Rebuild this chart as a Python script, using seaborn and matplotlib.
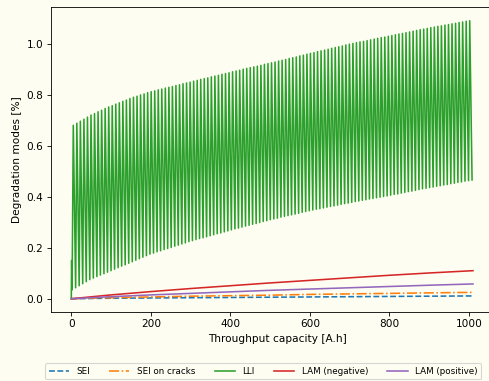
import numpy as np
import pandas as pd
import matplotlib
matplotlib.use("Agg")
import matplotlib.pyplot as plt
import seaborn as sns

# ---------------- data ----------------
# LLI: per-cycle upper (peak) and lower (trough) values
lli_peaks = [
    0.68, 0.688, 0.696, 0.704, 0.712, 0.72,
    0.726, 0.733, 0.739, 0.746, 0.752,
    0.757, 0.763, 0.768, 0.774, 0.779, 0.785, 0.79,
    0.794, 0.799, 0.803, 0.808, 0.812,
    0.815, 0.819, 0.822, 0.826, 0.829, 0.832, 0.836, 0.839, 0.843, 0.846, 0.849, 0.853,
    0.856, 0.86, 0.863, 0.866, 0.87, 0.873, 0.876, 0.88, 0.883, 0.886, 0.89,
    0.893, 0.896, 0.9, 0.903, 0.906, 0.909, 0.912, 0.915, 0.919, 0.922, 0.925,
    0.928, 0.932, 0.935, 0.938, 0.942, 0.945, 0.948, 0.952, 0.955, 0.959, 0.962,
    0.965, 0.969, 0.972, 0.975, 0.978, 0.982, 0.985, 0.988, 0.991, 0.995, 0.998, 1.001,
    1.004, 1.007, 1.009, 1.012, 1.015, 1.018, 1.021, 1.024, 1.026, 1.029, 1.032,
    1.035, 1.038, 1.04, 1.043, 1.046, 1.049, 1.052, 1.055, 1.057, 1.06, 1.063,
    1.065, 1.068, 1.07, 1.073, 1.075, 1.078, 1.08, 1.083, 1.085, 1.088, 1.09,
]
lli_troughs = [
    0.035, 0.043, 0.051, 0.059, 0.067, 0.075,
    0.081, 0.087, 0.093, 0.098, 0.104, 0.11,
    0.116, 0.122, 0.128, 0.133, 0.139, 0.145,
    0.151, 0.157, 0.163, 0.169, 0.175,
    0.179, 0.184, 0.188, 0.193, 0.197, 0.201, 0.206, 0.21, 0.215, 0.219, 0.224, 0.228,
    0.232, 0.236, 0.239, 0.243, 0.247, 0.251, 0.255, 0.258, 0.262, 0.266, 0.27,
    0.274, 0.277, 0.281, 0.285, 0.288, 0.292, 0.295, 0.299, 0.303, 0.306, 0.31,
    0.313, 0.316, 0.32, 0.323, 0.326, 0.329, 0.332, 0.335, 0.339, 0.342, 0.345,
    0.348, 0.351, 0.353, 0.356, 0.359, 0.362, 0.364, 0.367, 0.37, 0.373, 0.375, 0.378,
    0.381, 0.383, 0.386, 0.388, 0.391, 0.393, 0.396, 0.398, 0.401, 0.403, 0.406,
    0.409, 0.411, 0.414, 0.417, 0.42, 0.422, 0.425, 0.428, 0.431, 0.433, 0.436,
    0.438, 0.441, 0.443, 0.446, 0.448, 0.451, 0.453, 0.456, 0.458, 0.461, 0.463,
    0.466,
]
lli_start_x = [0.0, 0.8]
lli_start_y = [0.0, 0.15]
cycle_length = 8.9      # A.h per cycle
first_cycle_x = 2.0
peak_offset = 3.0

# Smooth degradation modes
mode_x = [0, 100, 200, 300, 400, 500, 600, 700, 800, 900, 1010]
sei = [0.0, 0.002, 0.003, 0.004, 0.005, 0.006, 0.007, 0.008, 0.009, 0.010, 0.011]
sei_cracks = [0.0, 0.004, 0.007, 0.010, 0.012, 0.014, 0.017, 0.019, 0.021, 0.023, 0.025]
lam_neg = [0.0, 0.015, 0.028, 0.040, 0.051, 0.062, 0.072, 0.082, 0.092, 0.101, 0.11]
lam_pos = [0.0, 0.008, 0.015, 0.021, 0.027, 0.033, 0.038, 0.043, 0.048, 0.053, 0.058]

labels = ["SEI", "SEI on cracks", "LLI", "LAM (negative)", "LAM (positive)"]
xlabel = "Throughput capacity [A.h]"
ylabel = "Degradation modes [%]"

# ---------------- build LLI sawtooth from read values ----------------
n = len(lli_peaks)
lli_x = list(lli_start_x)
lli_y = list(lli_start_y)
for i in range(n):
    x0 = first_cycle_x + cycle_length * i
    lli_x += [x0, x0 + peak_offset]
    lli_y += [lli_troughs[i], lli_peaks[i]]
lli_x.append(first_cycle_x + cycle_length * n)
lli_y.append(lli_troughs[n])

# ---------------- figure ----------------
DPI = 76
bg = "#fdfdf1"
fig = plt.figure(figsize=(489 / DPI, 381 / DPI), dpi=DPI, facecolor=bg)
ax = fig.add_axes([50.7 / 489, (381 - 312) / 381, (504 - 50.7) / 489, (312 - 6.7) / 381])
ax.set_facecolor(bg)

pal = sns.color_palette("tab10")
sns.lineplot(x=mode_x, y=sei, ax=ax, color=pal[0], linestyle="--", label=labels[0],
             sort=False, estimator=None)
sns.lineplot(x=mode_x, y=sei_cracks, ax=ax, color=pal[1], linestyle="-.", label=labels[1],
             sort=False, estimator=None)
sns.lineplot(x=lli_x, y=lli_y, ax=ax, color=pal[2], label=labels[2],
             sort=False, estimator=None)
sns.lineplot(x=mode_x, y=lam_neg, ax=ax, color=pal[3], label=labels[3],
             sort=False, estimator=None)
sns.lineplot(x=mode_x, y=lam_pos, ax=ax, color=pal[4], label=labels[4],
             sort=False, estimator=None)

ax.set_xlim(-51.8, 1088)
ax.set_ylim(-0.052, 1.145)
ax.set_xticks([0, 200, 400, 600, 800, 1000])
ax.set_yticks([0.0, 0.2, 0.4, 0.6, 0.8, 1.0])
ax.set_xlabel(xlabel)
ax.set_ylabel(ylabel)

ax.legend(loc="upper left", bbox_to_anchor=(-0.0126, -0.168), ncol=5,
          fontsize="small", facecolor=bg, borderaxespad=0,
          handlelength=2.3, handletextpad=0.85, columnspacing=2.2)

fig.savefig("out.png", dpi=DPI, facecolor=bg)
